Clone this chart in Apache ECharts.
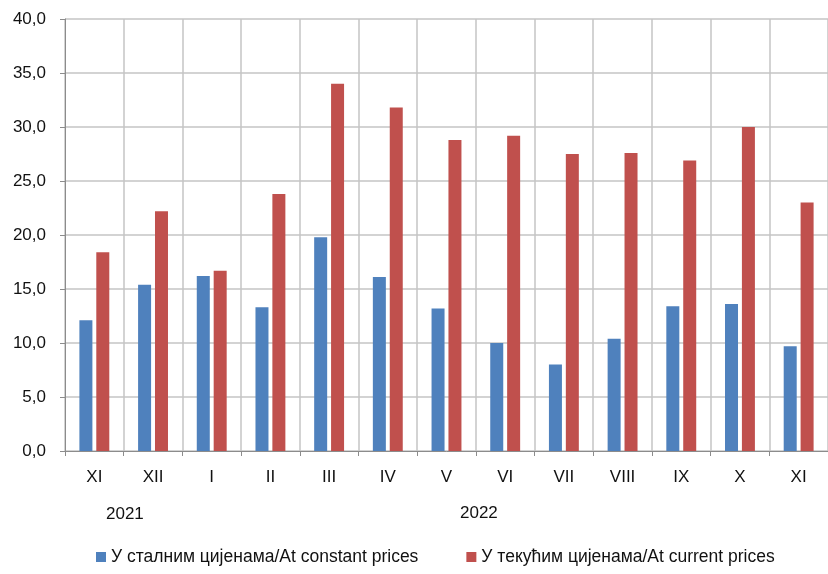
<!DOCTYPE html>
<html><head><meta charset="utf-8">
<script src="https://cdn.jsdelivr.net/npm/echarts@6/dist/echarts.min.js"></script>
<style>html,body{margin:0;padding:0;background:#fff}#c{width:828px;height:574px}</style>
</head><body><div id="c"></div>
<script>
var categories = ['XI','XII','I','II','III','IV','V','VI','VII','VIII','IX','X','XI'];
var constantPrices = [12.1, 15.4, 16.2, 13.3, 19.8, 16.1, 13.2, 10.0, 8.0, 10.4, 13.4, 13.6, 9.7];
var currentPrices = [18.4, 22.2, 16.7, 23.8, 34.0, 31.8, 28.8, 29.2, 27.5, 27.6, 26.9, 30.0, 23.0];
var seriesNames = ['У сталним цијенама/At constant prices', 'У текућим цијенама/At current prices'];
var yearLabels = ['2021', '2022'];

var font = '"Liberation Sans", Arial, sans-serif';
var chart = echarts.init(document.getElementById('c'));
chart.setOption({
  animation: false,
  textStyle: {fontFamily: font},
  grid: {left: 65, top: 19, width: 767, height: 432, containLabel: false},
  xAxis: {
    type: 'category', data: categories,
    axisLine: {lineStyle: {color: '#8c8c8c', width: 1}},
    axisTick: {show: true, length: 5, lineStyle: {color: '#8c8c8c'}},
    splitLine: {show: true, lineStyle: {color: '#c4c4c4', width: 1.5}},
    axisLabel: {color: '#111', fontSize: 17, margin: 18, fontFamily: font}
  },
  yAxis: {
    type: 'value', min: 0, max: 40, interval: 5,
    axisLine: {show: true, lineStyle: {color: '#8c8c8c'}},
    axisTick: {show: true, length: 5, lineStyle: {color: '#8c8c8c'}},
    splitLine: {lineStyle: {color: '#c4c4c4', width: 1.5}},
    axisLabel: {color: '#111', fontSize: 17, margin: 19, fontFamily: font,
      formatter: function(v){ return v.toFixed(1).replace('.', ','); }}
  },
  legend: {
    bottom: 3, left: 91, width: 730, itemWidth: 10, itemHeight: 10, itemGap: 48,
    icon: 'rect',
    textStyle: {color: '#111', fontSize: 17.5, fontFamily: font},
    data: seriesNames
  },
  graphic: [
    {type: 'text', left: 106, top: 506, style: {text: yearLabels[0], fill: '#111', font: '17px ' + font}},
    {type: 'text', left: 460, top: 505, style: {text: yearLabels[1], fill: '#111', font: '17px ' + font}}
  ],
  series: [
    {name: seriesNames[0], type: 'bar', data: constantPrices, barWidth: 13, barGap: '30%',
      itemStyle: {color: '#4f81bd'}},
    {name: seriesNames[1], type: 'bar', data: currentPrices, barWidth: 13,
      itemStyle: {color: '#c0504d'}}
  ]
});
</script></body></html>
